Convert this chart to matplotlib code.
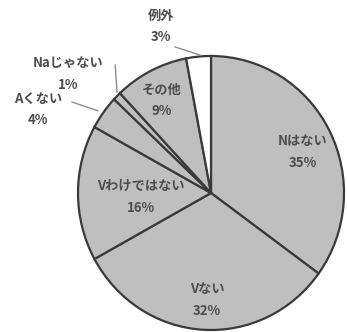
import numpy as np
import matplotlib.pyplot as plt

plt.rcParams['font.family'] = ['Noto Sans CJK JP', 'DejaVu Sans']

categories = ["Nはない", "Vない", "Vわけではない", "Aくない", "Naじゃない", "その他", "例外"]
percents = [35, 32, 16, 4, 1, 9, 3]
colors = ["#bfbfbf"] * 6 + ["#ffffff"]

# label centre positions (data units, pie radius = 1)
label_pos = [(0.69, 0.30), (-0.03, -0.78), (-0.53, -0.03), (-1.30, 0.61),
             (-1.075, 0.87), (-0.37, 0.675), (-0.376, 1.215)]
# leader lines for the small outside labels: (start, end)
leaders = {3: [(-1.045, 0.664), (-0.85, 0.60)],
           4: [(-0.72, 0.934), (-0.707, 0.737)],
           6: [(-0.27, 1.066), (-0.083, 1.007)]}

TEXT = "#4d4d4d"

fig = plt.figure(figsize=(3.47, 3.32), dpi=100)
ax = fig.add_axes([0, 0, 1, 1])
ax.axis("off")

wedges, _ = ax.pie(percents, colors=colors, startangle=90, counterclock=False,
                   radius=1, center=(0, 0),
                   wedgeprops=dict(edgecolor="#3a3a3a", linewidth=1.6))

for i, (name, pct) in enumerate(zip(categories, percents)):
    x, y = label_pos[i]
    ax.text(x, y, f"{name}\n{pct}%", ha="center", va="center", fontsize=9.5,
            fontweight="bold", color=TEXT, linespacing=1.7)

for i, pts in leaders.items():
    (x0, y0), (x1, y1) = pts
    ax.plot([x0, x1], [y0, y1], color="#8c8c8c", linewidth=1.0)

ax.set_xlim(-211 / 133, (347 - 211) / 133)
ax.set_ylim(-(332 - 193) / 137, 193 / 137)
ax.set_aspect("auto")

fig.savefig("out.png", dpi=100)
